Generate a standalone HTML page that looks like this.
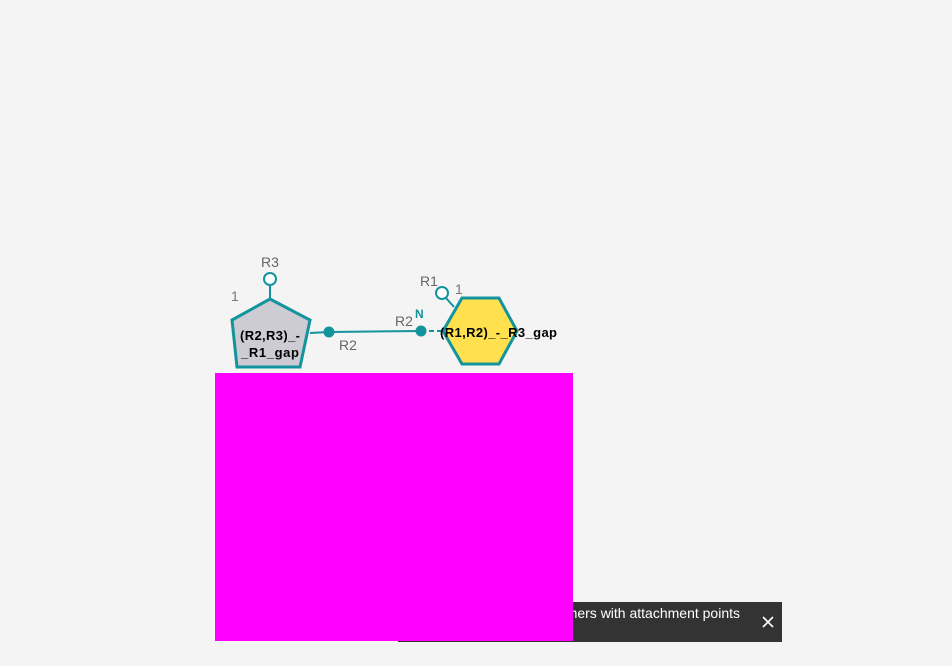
<!DOCTYPE html>
<html><head><meta charset="utf-8"><style>
html,body{margin:0;padding:0;background:#f4f4f4;width:952px;height:666px;overflow:hidden;font-family:"Liberation Sans",sans-serif}
svg{position:absolute;left:0;top:0}
</style></head><body>
<svg width="952" height="666">
<g>
<line x1="270" y1="285" x2="270" y2="299" stroke="#13939c" stroke-width="2"/>
<circle cx="270" cy="279" r="6" fill="#fff" stroke="#13939c" stroke-width="2"/>
<polygon points="270,299 310,320 300,367 237,367 232,320" fill="#cdcbd3" stroke="#13939c" stroke-width="3"/>
<text x="270" y="340" text-anchor="middle" font-size="13" font-weight="bold" fill="#000" textLength="60">(R2,R3)_-</text>
<text x="270" y="357" text-anchor="middle" font-size="13" font-weight="bold" fill="#000" textLength="58">_R1_gap</text>
</g>
<text x="270" y="267" text-anchor="middle" font-size="14" fill="#666">R3</text>
<text x="231" y="301" font-size="14" fill="#777">1</text>
<g>
<line x1="310" y1="333" x2="329" y2="332" stroke="#13939c" stroke-width="2"/>
<line x1="329" y1="332" x2="421" y2="331" stroke="#13939c" stroke-width="2"/>
<line x1="421" y1="331" x2="444" y2="331" stroke="#13939c" stroke-width="2" stroke-dasharray="5,3"/>
<circle cx="329" cy="332" r="5.5" fill="#13939c"/>
<circle cx="421" cy="331" r="5.5" fill="#13939c"/>
</g>
<text x="339" y="350" font-size="14" fill="#666">R2</text>
<text x="395" y="326" font-size="14" fill="#666">R2</text>
<text x="415" y="318" font-size="12" font-weight="bold" fill="#13939c">N</text>
<g>
<line x1="446" y1="298" x2="454" y2="307" stroke="#13939c" stroke-width="2"/>
<circle cx="442" cy="293" r="6" fill="#fff" stroke="#13939c" stroke-width="2"/>
<polygon points="443,331 462,298 499,298 517,331 499,364 462,364" fill="#ffe14f" stroke="#13939c" stroke-width="3"/>
<text x="440" y="337" font-size="13" font-weight="bold" fill="#000" textLength="117">(R1,R2)_-_R3_gap</text>
</g>
<text x="420" y="286" font-size="14" fill="#666">R1</text>
<text x="455" y="294" font-size="14" fill="#777">1</text>
<g>
<rect x="398" y="602" width="384" height="40" fill="#333"/>
<text x="740" y="618" text-anchor="end" font-size="14" fill="#fff">Monomers with attachment points</text>
<g stroke="#fff" stroke-width="1.6">
<line x1="763" y1="617" x2="773" y2="627"/><line x1="773" y1="617" x2="763" y2="627"/>
</g>
</g>
<rect x="215" y="373" width="358" height="268" fill="#ff00ff"/>
</svg>
</body></html>
